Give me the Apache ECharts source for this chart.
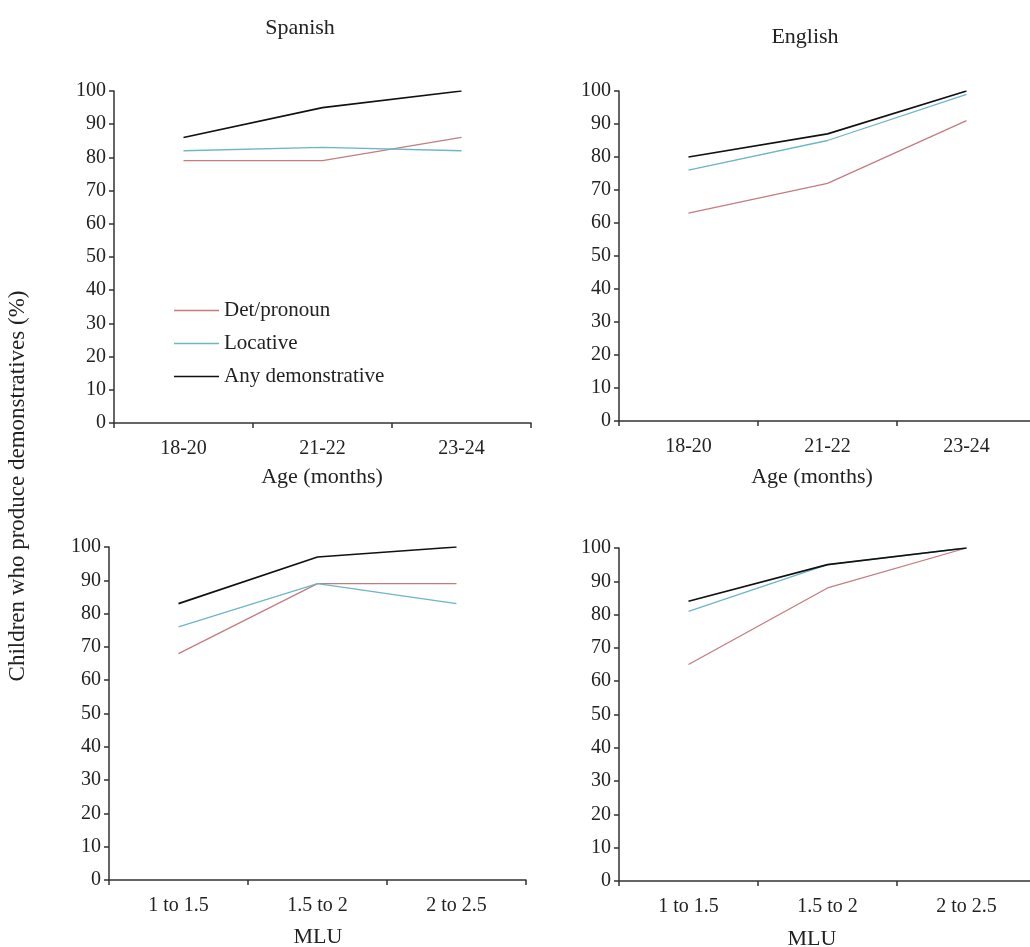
<!DOCTYPE html>
<html>
<head>
<meta charset="utf-8">
<script src="https://cdn.jsdelivr.net/npm/echarts@6/dist/echarts.min.js"></script>
<style>
  html, body { margin: 0; padding: 0; background: #fff; }
  #chart { width: 1030px; height: 947px; }
</style>
</head>
<body>
<div id="chart"></div>
<script>
// Categories
const ageCats = ['18-20', '21-22', '23-24'];
const mluCats = ['1 to 1.5', '1.5 to 2', '2 to 2.5'];

// Series names
const seriesNames = ['Det/pronoun', 'Locative', 'Any demonstrative'];

// Percentage of children producing each demonstrative type
const spanishAgeDet = [79, 79, 86];
const spanishAgeLoc = [82, 83, 82];
const spanishAgeAny = [86, 95, 100];

const englishAgeDet = [63, 72, 91];
const englishAgeLoc = [76, 85, 99];
const englishAgeAny = [80, 87, 100];

const spanishMluDet = [68, 89, 89];
const spanishMluLoc = [76, 89, 83];
const spanishMluAny = [83, 97, 100];

const englishMluDet = [65, 88, 100];
const englishMluLoc = [81, 95, 100];
const englishMluAny = [84, 95, 100];

// Value axis range
const yMin = 0, yMax = 100, yStep = 10;

const FONT = '"Liberation Serif", "Times New Roman", serif';
const TEXT = '#222';
const AXIS = '#333';
const colors = ['#c27d80', '#6cb6c6', '#111111'];
const widths = [1.3, 1.3, 1.7];

const panels = [
  { grid: { left: 114, top: 91, width: 417, height: 332 }, cats: ageCats, data: [spanishAgeDet, spanishAgeLoc, spanishAgeAny] },
  { grid: { left: 619, top: 91, width: 417, height: 330 }, cats: ageCats, data: [englishAgeDet, englishAgeLoc, englishAgeAny] },
  { grid: { left: 109, top: 547, width: 417, height: 333 }, cats: mluCats, data: [spanishMluDet, spanishMluLoc, spanishMluAny] },
  { grid: { left: 619, top: 548, width: 417, height: 333 }, cats: mluCats, data: [englishMluDet, englishMluLoc, englishMluAny] }
];

const grid = [], xAxis = [], yAxis = [], series = [];
panels.forEach((p, i) => {
  grid.push(Object.assign({ containLabel: false, outerBoundsMode: 'none' }, p.grid));
  xAxis.push({
    type: 'category', gridIndex: i, data: p.cats, boundaryGap: true,
    axisLine: { lineStyle: { color: AXIS, width: 1.5 } },
    axisTick: { show: true, length: 5, inside: false, lineStyle: { color: AXIS, width: 1.5 } },
    axisLabel: { color: TEXT, fontFamily: FONT, fontSize: 20, margin: 16 },
    splitLine: { show: false }
  });
  yAxis.push({
    type: 'value', gridIndex: i, min: yMin, max: yMax, interval: yStep,
    axisLine: { show: true, lineStyle: { color: AXIS, width: 1.5 } },
    axisTick: { show: true, length: 5, lineStyle: { color: AXIS, width: 1.5 } },
    axisLabel: { color: TEXT, fontFamily: FONT, fontSize: 20, margin: 8 },
    splitLine: { show: false }
  });
  p.data.forEach((vals, k) => {
    series.push({
      type: 'line', name: seriesNames[k], xAxisIndex: i, yAxisIndex: i,
      data: vals, symbol: 'none', smooth: false, silent: true,
      lineStyle: { color: colors[k], width: widths[k] },
      itemStyle: { color: colors[k] }
    });
  });
});

const titleStyle = { color: TEXT, fontFamily: FONT, fontSize: 22, fontWeight: 'normal' };
const titleAt = (text, x, y) => ({ text, left: x, top: y, textAlign: 'center', textStyle: titleStyle, padding: 0 });

const option = {
  animation: false,
  backgroundColor: '#fff',
  title: [
    titleAt('Spanish', 300, 17),
    titleAt('English', 805, 26),
    titleAt('Age (months)', 322, 466),
    titleAt('Age (months)', 812, 466),
    titleAt('MLU', 318, 926),
    titleAt('MLU', 812, 928)
  ],
  legend: {
    data: seriesNames.map((n, k) => ({ name: n, icon: 'rect', itemStyle: { color: colors[k] } })),
    orient: 'vertical',
    left: 169, top: 295,
    itemWidth: 45, itemHeight: 1.6, itemGap: 12,
    selectedMode: false,
    textStyle: { color: TEXT, fontFamily: FONT, fontSize: 21 }
  },
  graphic: [{
    type: 'text', x: 18, y: 486, rotation: Math.PI / 2,
    style: {
      text: 'Children who produce demonstratives (%)',
      fill: TEXT, font: '23px ' + FONT, align: 'center', verticalAlign: 'middle'
    }
  }],
  grid, xAxis, yAxis, series
};

const chart = echarts.init(document.getElementById('chart'), null, { renderer: 'canvas' });
chart.setOption(option);
</script>
</body>
</html>
